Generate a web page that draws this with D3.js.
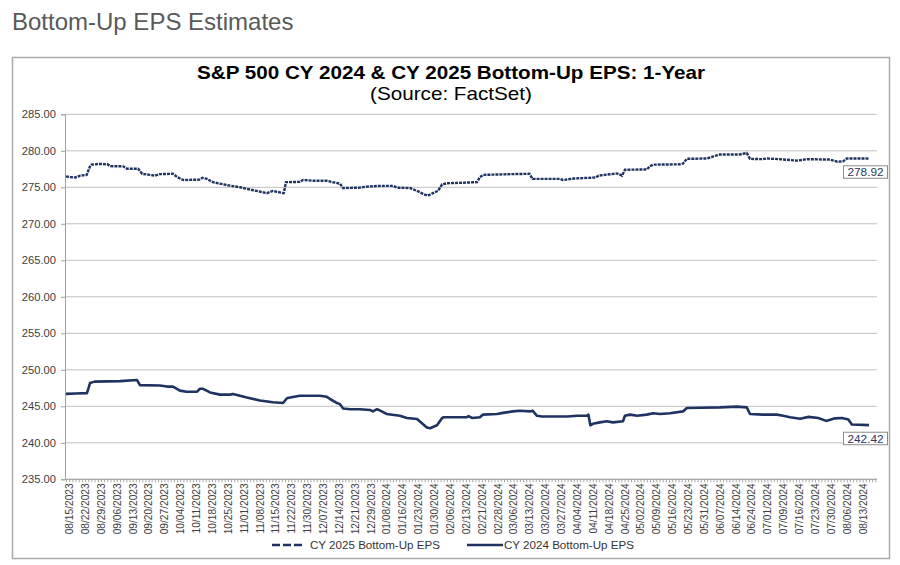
<!DOCTYPE html>
<html>
<head>
<meta charset="utf-8">
<script src="https://cdn.jsdelivr.net/npm/d3@7/dist/d3.min.js"></script>
<style>
  html, body { margin: 0; padding: 0; background: #fff; }
  svg { display: block; font-family: "Liberation Sans", Arial, sans-serif; }
</style>
</head>
<body>
<svg id="chart" width="900" height="565"></svg>
<script>
// ---- data (trading-day index from 08/15/2023, EPS value) ----
const dateLabels = ["08/15/2023","08/22/2023","08/29/2023","09/06/2023","09/13/2023","09/20/2023","09/27/2023","10/04/2023","10/11/2023","10/18/2023","10/25/2023","11/01/2023","11/08/2023","11/15/2023","11/22/2023","11/30/2023","12/07/2023","12/14/2023","12/21/2023","12/29/2023","01/08/2024","01/16/2024","01/23/2024","01/30/2024","02/06/2024","02/13/2024","02/21/2024","02/28/2024","03/06/2024","03/13/2024","03/20/2024","03/27/2024","04/04/2024","04/11/2024","04/18/2024","04/25/2024","05/02/2024","05/09/2024","05/16/2024","05/23/2024","05/31/2024","06/07/2024","06/14/2024","06/24/2024","07/01/2024","07/09/2024","07/16/2024","07/23/2024","07/30/2024","08/06/2024","08/13/2024"];
const daysPerLabel = 5;
const lastDay = 253;

const yTicks = [235, 240, 245, 250, 255, 260, 265, 270, 275, 280, 285];

const cy2025 = [[0,276.5],[1,276.4],[3,276.35],[4.5,276.6],[6.5,276.7],[7.5,277.8],[8,278.1],[10.5,278.2],[13,278.15],[14,277.9],[18,277.87],[19.2,277.55],[22.7,277.55],[24,276.85],[26.5,276.7],[28,276.6],[29.5,276.8],[33.7,276.85],[35,276.4],[37,276.0],[42,276.05],[43,276.3],[44.4,276.15],[46.3,275.7],[50.7,275.3],[54.8,275.0],[59,274.6],[63.3,274.2],[65.2,274.5],[67.4,274.3],[68.6,274.2],[69.3,275.7],[73.7,275.75],[74.7,276.0],[78,275.9],[82.2,275.9],[84,275.7],[86.3,275.5],[87.3,274.9],[92.6,274.95],[94.8,275.1],[99,275.2],[103,275.2],[104.3,274.95],[108.4,274.9],[110.6,274.5],[112.5,274.1],[114,273.85],[115.6,274.2],[117.2,274.5],[118.5,275.4],[120,275.55],[129.5,275.7],[130.4,276.4],[131.5,276.7],[140,276.8],[146,276.85],[147,276.15],[155.6,276.15],[156.6,276.0],[160,276.2],[167,276.35],[167.8,276.6],[173.6,276.9],[175.2,276.6],[176.1,277.4],[183,277.45],[184,277.9],[185,278.1],[193.4,278.15],[194.4,278.25],[195.6,278.9],[202,278.95],[203.8,279.2],[206,279.5],[212.3,279.5],[213.3,279.6],[214.5,279.7],[215.5,278.9],[219.6,278.85],[220.9,278.95],[225,278.85],[230.3,278.65],[233.5,278.85],[240.7,278.8],[243,278.5],[244.8,278.55],[246,278.95],[252,278.95],[253,278.92]];

const cy2024 = [[0,246.7],[3,246.75],[6.6,246.8],[7.6,248.2],[9,248.38],[17,248.45],[22.4,248.6],[23.3,247.9],[29.6,247.85],[31.8,247.7],[33.7,247.7],[35.9,247.15],[38,247.0],[41.3,247.0],[42.2,247.4],[43.2,247.4],[45.4,246.9],[48.5,246.6],[51.7,246.6],[52.6,246.7],[57,246.2],[61.1,245.8],[65.2,245.55],[68.4,245.45],[69.6,246.1],[70.6,246.2],[73.7,246.45],[80,246.45],[82.2,246.3],[83.2,246.0],[85.4,245.45],[86.3,245.3],[87.3,244.7],[89.5,244.6],[92.6,244.6],[95.8,244.5],[96.7,244.3],[98,244.6],[99,244.4],[101,243.95],[105.2,243.7],[107.4,243.4],[110.6,243.25],[113.7,242.1],[114.7,242.0],[116.9,242.4],[118.5,243.4],[119,243.5],[126.3,243.5],[126.8,243.65],[128,243.4],[130.4,243.5],[131.4,243.86],[135.8,243.95],[137.7,244.1],[140.8,244.3],[143,244.4],[146.2,244.3],[147,244.4],[148.4,243.7],[150,243.6],[158,243.6],[161,243.7],[164,243.7],[164.6,243.86],[165.2,242.4],[166,242.6],[168.2,242.8],[170.4,242.95],[172.3,242.8],[175.5,242.95],[176.1,243.7],[177.7,243.86],[180,243.7],[183,243.86],[185,244.05],[187.1,243.95],[190.3,244.05],[194.4,244.3],[195.6,244.77],[200,244.8],[206,244.85],[211.4,244.95],[214.5,244.85],[215.5,243.95],[219.6,243.86],[224,243.86],[226,243.7],[228.1,243.5],[231.3,243.3],[234,243.55],[237,243.4],[239.5,243.0],[242.3,243.35],[244.5,243.4],[246.5,243.2],[247.6,242.5],[253,242.42]];

const seriesNames = ["CY 2025 Bottom-Up EPS", "CY 2024 Bottom-Up EPS"];
const lastValues = [278.92, 242.42];

// ---- layout ----
const svg = d3.select("#chart");
const navy = "#1f3361";
const plot = { left: 65, right: 877, top: 114.3, bottom: 479.3 };

const x = d3.scaleLinear().domain([0, lastDay]).range([66, 869]);
const y = d3.scaleLinear().domain([235, 285]).range([plot.bottom, plot.top]);

// page title
svg.append("text").attr("x", 12).attr("y", 30)
  .attr("font-size", 24).attr("fill", "#595959").text("Bottom-Up EPS Estimates");

// chart frame
svg.append("rect").attr("x", 12.5).attr("y", 57.5).attr("width", 877).attr("height", 501)
  .attr("fill", "#fff").attr("stroke", "#aaaaaa").attr("stroke-width", 1.5);

// chart title
svg.append("text").attr("x", 197).attr("y", 79)
  .attr("font-size", 19).attr("font-weight", "bold").attr("fill", "#000")
  .attr("textLength", 508).attr("lengthAdjust", "spacingAndGlyphs")
  .text("S&P 500 CY 2024 & CY 2025 Bottom-Up  EPS: 1-Year");
svg.append("text").attr("x", 370).attr("y", 100)
  .attr("font-size", 18.5).attr("fill", "#000")
  .attr("textLength", 162).attr("lengthAdjust", "spacingAndGlyphs")
  .text("(Source: FactSet)");

// gridlines
svg.append("g").selectAll("line").data(yTicks).join("line")
  .attr("x1", plot.left).attr("x2", plot.right)
  .attr("y1", d => y(d)).attr("y2", d => y(d))
  .attr("stroke", "#c0c0c0").attr("stroke-width", 1);

// y axis
const yAxis = d3.axisLeft(y).tickValues(yTicks).tickFormat(d3.format(".2f")).tickSize(4).tickPadding(5);
const gy = svg.append("g").attr("transform", `translate(${plot.left},0)`).call(yAxis);
gy.select(".domain").attr("stroke", "#a0a0a0");
gy.selectAll(".tick line").attr("stroke", "#a0a0a0");
gy.selectAll(".tick text").attr("font-size", 11.2).attr("fill", "#404040")
  .attr("font-family", "Liberation Sans, Arial, sans-serif");

// x axis: minor tick per trading day, label every 5 trading days
const minorDays = d3.range(0, 256);
const xAxis = d3.axisBottom(x).tickValues(minorDays).tickSize(3).tickFormat("");
const gx = svg.append("g").attr("transform", `translate(0,${plot.bottom})`).call(xAxis);
gx.select(".domain").remove();
gx.selectAll(".tick line").attr("stroke", "#a8a8a8");
svg.append("line").attr("x1", plot.left).attr("x2", plot.right)
  .attr("y1", plot.bottom).attr("y2", plot.bottom).attr("stroke", "#a0a0a0");

svg.append("g").selectAll("text").data(dateLabels).join("text")
  .attr("transform", (d, i) => `translate(${x(i * daysPerLabel) + 3.5},${plot.bottom + 4}) rotate(-90)`)
  .attr("text-anchor", "end").attr("dy", "0.35em")
  .attr("font-size", 10.2).attr("fill", "#404040").text(d => d);

// lines
const line = d3.line().x(d => x(d[0])).y(d => y(d[1]));
svg.append("path").datum(cy2024).attr("d", line)
  .attr("fill", "none").attr("stroke", navy).attr("stroke-width", 2.6).attr("stroke-linejoin", "round");
svg.append("path").datum(cy2025).attr("d", line)
  .attr("fill", "none").attr("stroke", navy).attr("stroke-width", 2.4)
  .attr("stroke-dasharray", "3,1");

// end labels
const endData = [cy2025, cy2024];
endData.forEach((s, i) => {
  const last = s[s.length - 1];
  const cy = y(last[1]) + 13.3;
  const g = svg.append("g");
  g.append("rect").attr("x", 843.5).attr("y", cy - 6.2).attr("width", 44).attr("height", 12.5)
    .attr("fill", "#fff").attr("stroke", "#8c8c8c").attr("stroke-width", 1);
  g.append("text").attr("x", 865.5).attr("y", cy).attr("dy", "0.36em")
    .attr("text-anchor", "middle").attr("font-size", 11.8).attr("fill", "#2b3a5e")
    .text(d3.format(".2f")(lastValues[i]));
});

// legend
const lg = svg.append("g");
lg.append("line").attr("x1", 272).attr("x2", 303).attr("y1", 545).attr("y2", 545)
  .attr("stroke", navy).attr("stroke-width", 2.6).attr("stroke-dasharray", "8,3");
lg.append("text").attr("x", 310).attr("y", 545).attr("dy", "0.35em").attr("font-size", 11.6)
  .attr("fill", "#333").text(seriesNames[0]);
lg.append("line").attr("x1", 467).attr("x2", 503).attr("y1", 545).attr("y2", 545)
  .attr("stroke", navy).attr("stroke-width", 2.6);
lg.append("text").attr("x", 504).attr("y", 545).attr("dy", "0.35em").attr("font-size", 11.6)
  .attr("fill", "#333").text(seriesNames[1]);
</script>
</body>
</html>
